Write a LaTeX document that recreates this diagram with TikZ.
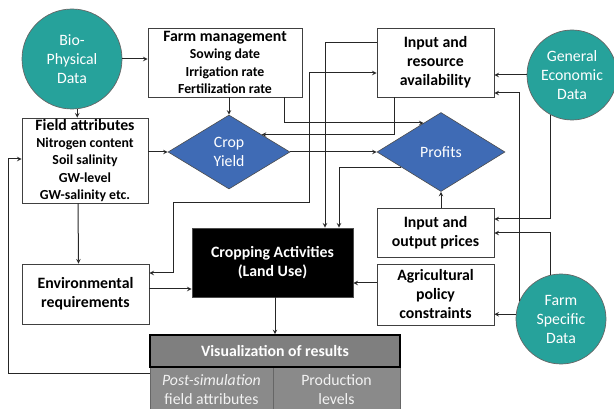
\documentclass[tikz,border=0pt]{standalone}
\usepackage{fontspec}
\setmainfont{Carlito}
\usetikzlibrary{shapes.geometric}
\definecolor{tealdata}{HTML}{26A29B}
\definecolor{blueyield}{HTML}{3F6BB5}
\definecolor{grayvis}{HTML}{7F7F7F}
\definecolor{graycell}{HTML}{8A8A8A}
\newcommand{\bigtxt}{\fontsize{15.8}{19}\selectfont}
\newcommand{\smalltxt}{\fontsize{13.8}{17.3}\selectfont}

\begin{document}
\begin{tikzpicture}[x=1pt,y=-1pt,
  box/.style={draw=black!75,line width=0.9pt,fill=white,align=center,inner sep=0pt,font=\bfseries\bigtxt},
  data/.style={circle,fill=tealdata,draw=black!60,line width=0.7pt,text=white,align=center,inner sep=0pt,font=\bigtxt},
  decision/.style={diamond,fill=blueyield,draw=black!70,line width=0.6pt,text=white,align=center,inner sep=0pt,font=\bigtxt},
  cell/.style={draw=black!60,line width=0.8pt,fill=graycell,text=black!5,align=center,inner sep=0pt,font=\bigtxt},
  flow/.style={draw=black!85,line width=1pt,-stealth}]
  \useasboundingbox (0,0) rectangle (614,409);
  \clip (0,0) rectangle (614,409);

  % data sources
  \node[data,minimum size=100pt] (bio) at (72,59) {Bio-\\Physical\\Data};
  \node[data,minimum size=90pt] (econ) at (572,75) {General\\Economic\\Data};
  \node[data,minimum size=90pt] (farmdata) at (561,319) {Farm\\Specific\\Data};

  % boxes
  \node[box,font=\bfseries\smalltxt,minimum width=154pt,minimum height=69pt] (farm) at (225,62.5)
    {{\bigtxt Farm management}\\Sowing date\\Irrigation rate\\Fertilization rate};
  \node[box,font=\bfseries\smalltxt,minimum width=126pt,minimum height=85pt] (field) at (85,160.5)
    {{\bigtxt Field attributes}\\Nitrogen content\\Soil salinity\\GW-level\\GW-salinity etc.};
  \node[box,minimum width=117pt,minimum height=69pt] (res) at (435.5,62.5) {Input and\\resource\\availability};
  \node[box,minimum width=117pt,minimum height=49pt] (prices) at (435.5,232.5) {Input and\\output prices};
  \node[box,minimum width=117pt,minimum height=61pt] (policy) at (435.5,294.5) {Agricultural\\policy\\constraints};
  \node[box,minimum width=127pt,minimum height=60pt] (env) at (85.5,294) {Environmental\\requirements};
  \node[box,fill=black,text=white,draw=black!70,minimum width=161pt,minimum height=69pt] (crop) at (272.5,262.5)
    {Cropping Activities\\(Land Use)};

  % decisions
  \node[decision,minimum width=122pt,minimum height=74pt] (yield) at (229,152) {Crop\\Yield};
  \node[decision,minimum width=128pt,minimum height=79pt] (profits) at (441,152) {Profits};

  % results
  \node[cell,minimum width=123pt,minimum height=45pt] (post) at (211.5,389.5) {\textit{Post-simulation}\\field attributes};
  \node[cell,minimum width=127pt,minimum height=45pt] (prod) at (336.5,389.5) {Production\\levels};
  \node[box,fill=grayvis,text=white,draw=black,line width=1.6pt,minimum width=250pt,minimum height=32pt] (vis) at (275,351)
    {Visualization of results};

  % connectors
  \draw[flow] (bio.east) -- (bio.east -| farm.west);
  \draw[flow] (bio.-84) -- (bio.-84 |- field.north);
  \draw[flow] ([xshift=-7pt]field.south) -- ([xshift=-7pt]env.north);
  \draw[flow] (yield.west -| field.east) -- (yield.west);
  \draw[flow] (farm.south -| yield.north) -- (yield.north);
  \draw[flow] (yield.east) -- (profits.west);
  \draw[flow] (farm.south -| 284,0) |- (profits.121);
  \draw[flow] (res.south -| 394,0) |- (yield.28);
  \draw[flow] (res.west |- 0,43) -| (crop.north -| 325,0);
  \draw[flow] (profits.201) -| (crop.north -| 339,0);
  \draw[flow,stealth-stealth] (env.east |- 0,273) -| (173,203) -| (309,73) -- (res.west |- 0,73);
  \draw[flow] (econ.west) -- (econ.west -| res.east);
  \draw[flow] (farmdata.156) |- (res.east |- 0,93);
  \draw[flow] (econ.241) |- (prices.east |- 0,219);
  \draw[flow] (farmdata.104) |- (prices.east |- 0,233);
  \draw[flow] (farmdata.174) -- (farmdata.174 -| policy.east);
  \draw[flow] (policy.west |- 0,283) -- (crop.east |- 0,283);
  \draw[flow] (profits.south |- prices.north) -- (profits.south);
  \draw[flow] (env.east |- 0,289) -- (crop.west |- 0,289);
  \draw[flow] (crop.south -| vis.north) -- (vis.north);
  \draw[flow] (post.west |- 0,373) -| (8,159) -- (field.west |- 0,159);
\end{tikzpicture}
\end{document}
